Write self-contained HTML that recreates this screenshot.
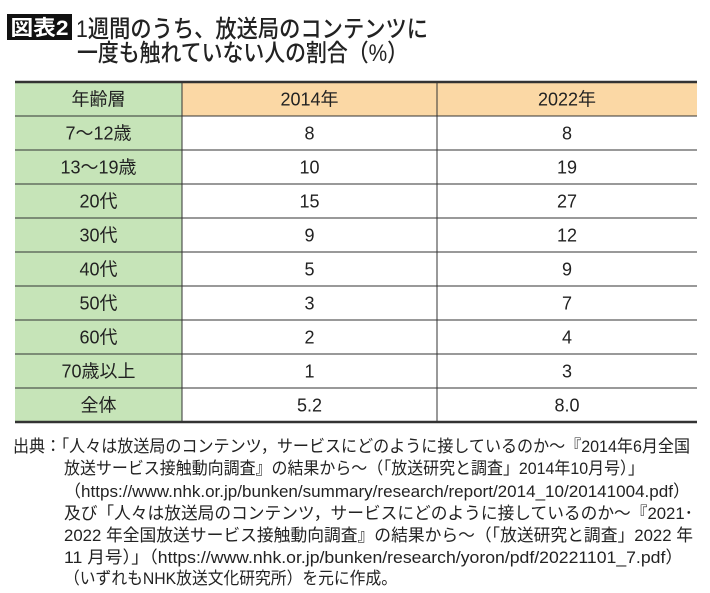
<!DOCTYPE html>
<html><head><meta charset="utf-8"><style>
body{margin:0;background:#fff;width:710px;height:593px;overflow:hidden}
svg{display:block}
text{font-family:"Liberation Sans","Noto Sans CJK JP",sans-serif;fill:#222}
</style></head><body>
<svg id="s" width="710" height="593" viewBox="0 0 710 593">
<rect x="7" y="14" width="65" height="26" fill="#111"/>
<text x="39.5" y="35" text-anchor="middle" font-size="21" font-weight="bold" style="fill:#fff" textLength="58" lengthAdjust="spacingAndGlyphs">図表2</text>
<text x="76" y="37" font-size="24" font-weight="500" textLength="352" lengthAdjust="spacingAndGlyphs">1週間のうち、放送局のコンテンツに</text>
<text x="77" y="61" font-size="24" font-weight="500" textLength="331" lengthAdjust="spacingAndGlyphs">一度も触れていない人の割合（%）</text>
<g id="tbl"></g>
<g id="notes" font-size="17"></g>
</svg>
<script>
const categories=["7～12歳","13～19歳","20代","30代","40代","50代","60代","70歳以上","全体"];
const values2014=["8","10","15","9","5","3","2","1","5.2"];
const values2022=["8","19","27","12","9","7","4","3","8.0"];
const headers=["年齢層","2014年","2022年"];
const NS="http://www.w3.org/2000/svg";
const g=document.getElementById('tbl');
const X=[15,182,437,697],Y0=82,RH=34;
function mk(t,a,p){const e=document.createElementNS(NS,t);for(const k in a)e.setAttribute(k,a[k]);(p||g).appendChild(e);return e;}
const nRows=categories.length+1;
let r=mk('rect',{x:X[0],y:Y0,width:X[1]-X[0],height:RH*nRows,fill:'#c6e4b8'});


r=mk('rect',{x:X[1],y:Y0,width:X[3]-X[1],height:RH,fill:'#fbd8a5'});


function cell(txt,col,row,name){
  const t=mk('text',{x:(X[col]+X[col+1])/2,y:Y0+RH*row+RH/2+6.5,'text-anchor':'middle','font-size':18});
  t.textContent=txt;
  
  
}
headers.forEach((h,i)=>cell(h,i,0,'header-'+i));
categories.forEach((c,i)=>{
  cell(c,0,i+1,'row-label');
  cell(values2014[i],1,i+1,'value-2014');
  cell(values2022[i],2,i+1,'value-2022');
});
for(let i=0;i<=nRows;i++){
  const w=(i===0||i===nRows)?2.5:1;
  const l=mk('line',{x1:X[0],x2:X[3],y1:Y0+RH*i,y2:Y0+RH*i,stroke:'#333','stroke-width':w});
  
  
}
[1,2].forEach(j=>{
  const l=mk('line',{x1:X[j],x2:X[j],y1:Y0,y2:Y0+RH*nRows,stroke:'#333','stroke-width':1});
  
  
});
const notes=[
 [13,452,677,"出典：「人々は放送局のコンテンツ，サービスにどのように接しているのか～『2014年6月全国"],
 [64,474,580,"放送サービス接触動向調査』の結果から～（「放送研究と調査」2014年10月号）」"],
 [64,497,626,"（https://www.nhk.or.jp/bunken/summary/research/report/2014_10/20141004.pdf）"],
 [64,519,629,"及び「人々は放送局のコンテンツ，サービスにどのように接しているのか～『2021･"],
 [64,541,629,"2022 年全国放送サービス接触動向調査』の結果から～（「放送研究と調査」2022 年"],
 [64,563,619,"11 月号）」（https://www.nhk.or.jp/bunken/research/yoron/pdf/20221101_7.pdf）"],
 [64,584,333,"（いずれもNHK放送文化研究所）を元に作成。"]
];
const ng=document.getElementById('notes');
notes.forEach(n=>{
  const t=mk('text',{x:n[0],y:n[1],textLength:n[2],lengthAdjust:'spacingAndGlyphs'},ng);
  t.textContent=n[3];
  
  
});
</script>
</body></html>
